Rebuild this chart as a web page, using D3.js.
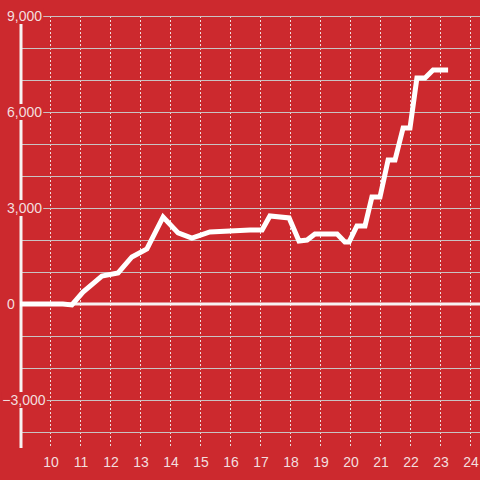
<!DOCTYPE html>
<html>
<head>
<meta charset="utf-8">
<script src="https://cdn.jsdelivr.net/npm/d3@7"></script>
<style>
  html, body { margin: 0; padding: 0; background: #cc292e; }
  svg { display: block; font-family: "Liberation Sans", Arial, sans-serif; }
</style>
</head>
<body>
<div id="chart"></div>
<script>

// hour of day (decimal) and running value
var hours  = [9.0, 10.43, 10.73, 11.1, 11.73, 12.27, 12.73, 13.23, 13.77, 14.27,
              14.73, 15.33, 16.67, 17.07, 17.33, 17.97, 18.3, 18.57, 18.83, 19.57,
              19.83, 19.97, 20.23, 20.5, 20.73, 21.0, 21.27, 21.5, 21.77, 22.0,
              22.23, 22.5, 22.77, 23.27];
var values = [0, 0, -30, 375, 875, 970, 1470, 1720, 2720, 2220,
              2060, 2250, 2310, 2310, 2750, 2690, 1970, 2000, 2190, 2190,
              1940, 1940, 2440, 2440, 3340, 3340, 4500, 4500, 5500, 5500,
              7060, 7060, 7310, 7310];

var xTicks     = [10, 11, 12, 13, 14, 15, 16, 17, 18, 19, 20, 21, 22, 23, 24];
var yTicks     = [-3000, 0, 3000, 6000, 9000];
var yGridTicks = [-4000, -3000, -2000, -1000, 0, 1000, 2000, 3000, 4000, 5000, 6000, 7000, 8000, 9000];

var bg = "#cc292e";
var width = 480, height = 480;

var x = d3.scaleLinear().domain([9, 24]).range([20, 470]);
var y = d3.scaleLinear().domain([-4000, 9000]).range([432, 16]);

var svg = d3.select("#chart")
  .append("svg")
    .attr("width", width)
    .attr("height", height);

svg.append("rect")
  .attr("width", width)
  .attr("height", height)
  .attr("fill", bg);

//......................... grid .............................
svg.append("g")
  .attr("class", "x-grid")
  .selectAll("line")
  .data(xTicks)
  .enter()
  .append("line")
    .attr("x1", function(d){ return x(d) + 0.5 })
    .attr("x2", function(d){ return x(d) + 0.5 })
    .attr("y1", 16)
    .attr("y2", 448)
    .attr("stroke", "#f0dcdc")
    .attr("stroke-width", 1)
    .attr("stroke-dasharray", "2,2");

svg.append("g")
  .attr("class", "y-grid")
  .selectAll("line")
  .data(yGridTicks)
  .enter()
  .append("line")
    .attr("x1", 20)
    .attr("x2", width)
    .attr("y1", function(d){ return Math.round(y(d)) + 0.5 })
    .attr("y2", function(d){ return Math.round(y(d)) + 0.5 })
    .attr("stroke", "#c9c3c3")
    .attr("stroke-width", 1);

// zero line
svg.append("line")
  .attr("x1", 20)
  .attr("x2", width)
  .attr("y1", y(0))
  .attr("y2", y(0))
  .attr("stroke", "#f7f2f2")
  .attr("stroke-width", 3);

// y axis line
svg.append("line")
  .attr("x1", 21)
  .attr("x2", 21)
  .attr("y1", 16)
  .attr("y2", 448)
  .attr("stroke", "#f7f2f2")
  .attr("stroke-width", 3);

//......................... data line ........................
var line = d3.line()
  .x(function(d){ return x(d[0]) })
  .y(function(d){ return y(d[1]) });

svg.append("path")
  .datum(d3.zip(hours, values))
  .attr("d", line)
  .attr("fill", "none")
  .attr("stroke", "#ffffff")
  .attr("stroke-width", 5)
  .attr("stroke-linejoin", "miter");

//......................... labels ...........................
var fmt = d3.format(",");

// width of the minus sign, so negative labels hang it left of the digits
var probe = svg.append("text").attr("font-size", 14).text("-");
var minusW = probe.node().getComputedTextLength();
probe.remove();

var yLab = svg.append("g")
  .attr("class", "y-labels")
  .selectAll("g")
  .data(yTicks)
  .enter()
  .append("g")
    .attr("transform", function(d){ return "translate(7," + y(d) + ")" });

yLab.append("text")
  .attr("x", function(d){ return d < 0 ? -minusW : 0 })
  .attr("text-anchor", "start")
  .attr("dy", "0.36em")
  .attr("font-size", 14)
  .attr("fill", "#f3dede")
  .text(function(d){ return fmt(d) })
  .each(function(){
    var b = this.getBBox();
    d3.select(this.parentNode)
      .insert("rect", "text")
      .attr("x", b.x - 1)
      .attr("y", -8)
      .attr("width", b.width + 2)
      .attr("height", 16)
      .attr("fill", bg);
  });

svg.append("g")
  .attr("class", "x-labels")
  .selectAll("text")
  .data(xTicks)
  .enter()
  .append("text")
    .attr("x", function(d){ return x(d) + 1 })
    .attr("y", 467)
    .attr("text-anchor", "middle")
    .attr("font-size", 14)
    .attr("fill", "#f3dede")
    .text(function(d){ return d });

</script>
</body>
</html>
